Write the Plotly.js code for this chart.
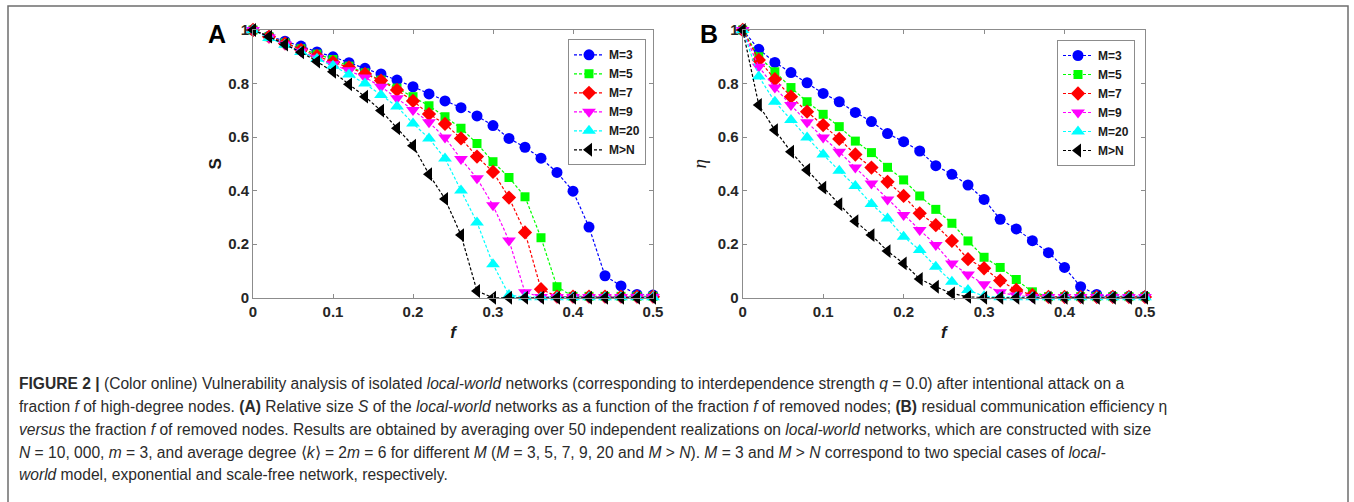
<!DOCTYPE html>
<html>
<head>
<meta charset="utf-8">
<script src="https://cdn.plot.ly/plotly-3.0.1.min.js"></script>
<style>
  html, body { margin: 0; padding: 0; background: #ffffff; }
  #chart { width: 1354px; height: 502px; }
</style>
</head>
<body>
<div id="chart"></div>
<script>
// ---------- data ----------
const fractionF = [0, 0.02, 0.04, 0.06, 0.08, 0.10, 0.12, 0.14, 0.16, 0.18, 0.20, 0.22, 0.24,
                   0.26, 0.28, 0.30, 0.32, 0.34, 0.36, 0.38, 0.40, 0.42, 0.44, 0.46, 0.48, 0.50];

const seriesNames = ["M=3", "M=5", "M=7", "M=9", "M=20", "M>N"];

// Panel A: relative size S
const sizeM3  = [1, 0.977, 0.958, 0.94, 0.918, 0.9, 0.878, 0.857, 0.836, 0.813, 0.788, 0.761, 0.735,
                 0.71, 0.679, 0.643, 0.595, 0.562, 0.521, 0.468, 0.398, 0.264, 0.082, 0.044, 0.012, 0.01];
const sizeM5  = [1, 0.975, 0.952, 0.93, 0.91, 0.89, 0.865, 0.84, 0.813, 0.783, 0.751, 0.717, 0.676,
                 0.633, 0.576, 0.508, 0.449, 0.377, 0.224, 0.041, 0.005, 0.005, 0.005, 0.005, 0.005, 0.005];
const sizeM7  = [1, 0.975, 0.95, 0.926, 0.903, 0.88, 0.86, 0.836, 0.811, 0.776, 0.735, 0.686, 0.649,
                 0.595, 0.527, 0.47, 0.374, 0.244, 0.032, 0.004, 0.004, 0.004, 0.004, 0.004, 0.004, 0.004];
const sizeM9  = [1, 0.972, 0.946, 0.92, 0.896, 0.872, 0.85, 0.823, 0.788, 0.745, 0.701, 0.655, 0.598,
                 0.518, 0.446, 0.345, 0.214, 0.02, 0.003, 0.003, 0.003, 0.003, 0.003, 0.003, 0.003, 0.003];
const sizeM20 = [1, 0.97, 0.945, 0.918, 0.893, 0.866, 0.834, 0.8, 0.757, 0.714, 0.651, 0.595, 0.52,
                 0.40, 0.281, 0.125, 0.01, 0.002, 0.002, 0.002, 0.002, 0.002, 0.002, 0.002, 0.002, 0.002];
const sizeMN  = [1, 0.975, 0.946, 0.917, 0.882, 0.844, 0.797, 0.751, 0.699, 0.633, 0.568, 0.461, 0.369,
                 0.234, 0.025, 0, 0, 0, 0, 0, 0, 0, 0, 0, 0, 0];

// Panel B: residual communication efficiency eta
const effM3  = [1, 0.928, 0.879, 0.841, 0.803, 0.763, 0.732, 0.692, 0.658, 0.613, 0.583, 0.548, 0.493,
                0.461, 0.421, 0.367, 0.293, 0.257, 0.213, 0.168, 0.113, 0.041, 0.012, 0.005, 0.005, 0.005];
const effM5  = [1, 0.90, 0.844, 0.785, 0.732, 0.685, 0.639, 0.585, 0.542, 0.487, 0.44, 0.38, 0.33,
                0.278, 0.212, 0.151, 0.113, 0.068, 0.022, 0.004, 0.004, 0.004, 0.004, 0.004, 0.004, 0.004];
const effM7  = [1, 0.888, 0.816, 0.751, 0.695, 0.645, 0.593, 0.535, 0.486, 0.433, 0.38, 0.315, 0.271,
                0.212, 0.144, 0.11, 0.064, 0.029, 0.01, 0.003, 0.003, 0.003, 0.003, 0.003, 0.003, 0.003];
const effM9  = [1, 0.863, 0.785, 0.72, 0.655, 0.598, 0.545, 0.486, 0.427, 0.367, 0.309, 0.253, 0.197,
                0.128, 0.087, 0.05, 0.02, 0.008, 0.003, 0.003, 0.003, 0.003, 0.003, 0.003, 0.003, 0.003];
const effM20 = [1, 0.826, 0.732, 0.664, 0.598, 0.535, 0.474, 0.417, 0.35, 0.296, 0.228, 0.178, 0.116,
                0.06, 0.029, 0.005, 0.002, 0.002, 0.002, 0.002, 0.002, 0.002, 0.002, 0.002, 0.002, 0.002];
const effMN  = [1, 0.72, 0.626, 0.545, 0.477, 0.411, 0.349, 0.286, 0.234, 0.174, 0.128, 0.07, 0.041,
                0.016, 0.003, 0, 0, 0, 0, 0, 0, 0, 0, 0, 0, 0];

const xTickVals = [0, 0.1, 0.2, 0.3, 0.4, 0.5];
const xTickText = ["0", "0.1", "0.2", "0.3", "0.4", "0.5"];
const yTickVals = [0, 0.2, 0.4, 0.6, 0.8, 1];
const yTickText = ["0", "0.2", "0.4", "0.6", "0.8", "1"];

// ---------- styles ----------
const colors  = ["#0000ff", "#00ff00", "#ff0000", "#ff00ff", "#00ffff", "#000000"];
const symbols = ["circle", "square", "diamond", "triangle-down", "triangle-up", "triangle-left"];
const sizes   = [11, 9, 11, 12, 12, 12];

const panelA = [sizeM3, sizeM5, sizeM7, sizeM9, sizeM20, sizeMN];
const panelB = [effM3, effM5, effM7, effM9, effM20, effMN];

const traces = [];
function addPanel(data, xa, ya, legendId) {
  data.forEach((ys, i) => {
    traces.push({
      type: "scatter", mode: "lines+markers",
      x: fractionF, y: ys, xaxis: xa, yaxis: ya,
      name: "<b>" + seriesNames[i].replace(">", "&gt;") + "</b>", legend: legendId,
      cliponaxis: false,
      line: { color: colors[i], width: 1.2, dash: "3px,2px" },
      marker: { color: colors[i], symbol: symbols[i], size: sizes[i], line: { width: 0 } }
    });
  });
}
addPanel(panelA, "x", "y", "legend");
addPanel(panelB, "x2", "y2", "legend2");

const W = 1354, H = 502;
const px = v => v / W, py = v => 1 - v / H;
const bold = arr => arr.map(s => "<b>" + s + "</b>");

const tickFont = { family: "Liberation Sans, Arial, sans-serif", size: 15, color: "#262626" };
function xAxis(d0, d1, anchor) {
  return {
    domain: [px(d0), px(d1)], anchor: anchor, range: [0, 0.5],
    tickvals: xTickVals, ticktext: bold(xTickText), ticks: "inside", ticklen: 4, tickcolor: "#8c8c8c",
    showline: true, linecolor: "#8c8c8c", linewidth: 1, mirror: "ticks", showgrid: false, zeroline: false,
    tickfont: tickFont, automargin: false,
    title: { text: "<b><i>f</i></b>", standoff: 7,
             font: { family: "Liberation Sans, Arial, sans-serif", size: 17, color: "#1a1a1a" } }
  };
}
function yAxis(anchor, titleText, titleFont, standoff) {
  return {
    domain: [1 - 297.7 / H, 1 - 30 / H], anchor: anchor, range: [0, 1],
    tickvals: yTickVals, ticktext: bold(yTickText), ticks: "inside", ticklen: 4, tickcolor: "#8c8c8c",
    showline: true, linecolor: "#8c8c8c", linewidth: 1, mirror: "ticks", showgrid: false, zeroline: false,
    tickfont: tickFont, automargin: false,
    title: { text: titleText, standoff: standoff, font: titleFont }
  };
}

const legendCommon = {
  bgcolor: "#ffffff", bordercolor: "#8c8c8c", borderwidth: 1,
  font: { family: "Liberation Sans, Arial, sans-serif", size: 12, color: "#1a1a1a" },
  xref: "paper", yref: "paper", xanchor: "right", yanchor: "top",
  itemwidth: 30, tracegroupgap: 0
};

const capFont = { family: "Liberation Sans, Arial, sans-serif", size: 15.6, color: "#2b2b2b" };
const captionLines = [
  "<b>FIGURE 2 |</b> (Color online) Vulnerability analysis of isolated <i>local-world</i> networks (corresponding to interdependence strength <i>q</i> = 0.0) after intentional attack on a",
  "fraction <i>f</i> of high-degree nodes. <b>(A)</b> Relative size <i>S</i> of the <i>local-world</i> networks as a function of the fraction <i>f</i> of removed nodes; <b>(B)</b> residual communication efficiency η",
  "<i>versus</i> the fraction <i>f</i> of removed nodes. Results are obtained by averaging over 50 independent realizations on <i>local-world</i> networks, which are constructed with size",
  "<i>N</i> = 10, 000, <i>m</i> = 3, and average degree ⟨<i>k</i>⟩ = 2<i>m</i> = 6 for different <i>M</i> (<i>M</i> = 3, 5, 7, 9, 20 and <i>M</i> &gt; <i>N</i>). <i>M</i> = 3 and <i>M</i> &gt; <i>N</i> correspond to two special cases of <i>local-</i>",
  "<i>world</i> model, exponential and scale-free network, respectively."
];
const captionY = [383, 406, 429, 452, 474];

const annotations = [
  { text: "<b>A</b>", x: px(217), y: py(34), xref: "paper", yref: "paper", showarrow: false,
    xanchor: "center", yanchor: "middle", font: { family: "Liberation Sans, Arial, sans-serif", size: 25, color: "#000" } },
  { text: "<b>B</b>", x: px(709), y: py(34), xref: "paper", yref: "paper", showarrow: false,
    xanchor: "center", yanchor: "middle", font: { family: "Liberation Sans, Arial, sans-serif", size: 25, color: "#000" } }
];
captionLines.forEach((t, i) => {
  annotations.push({ text: t, x: px(17), y: py(captionY[i]), xref: "paper", yref: "paper", showarrow: false,
    xanchor: "left", yanchor: "middle", align: "left", font: capFont });
});

const layout = {
  width: W, height: H, margin: { l: 0, r: 0, t: 0, b: 0 },
  paper_bgcolor: "#ffffff", plot_bgcolor: "#ffffff",
  showlegend: true,
  xaxis: xAxis(253, 653, "y"),
  yaxis: yAxis("x", "<b>S</b>", { family: "Liberation Sans, Arial, sans-serif", size: 17, color: "#1a1a1a" }, 2),
  xaxis2: xAxis(742.7, 1145, "y2"),
  yaxis2: yAxis("x2", "<i>η</i>", { family: "Liberation Serif, Times New Roman, serif", size: 19, color: "#1a1a1a" }, 6),
  legend: Object.assign({}, legendCommon, { x: px(646), y: py(39.3) }),
  legend2: Object.assign({}, legendCommon, { x: px(1135), y: py(40) }),
  annotations: annotations,
  shapes: [
    { type: "rect", xref: "paper", yref: "paper", x0: px(8), x1: px(1348), y0: -0.05, y1: py(6),
      line: { color: "#6e6e6e", width: 1.5 }, fillcolor: "rgba(0,0,0,0)", layer: "below" }
  ]
};

Plotly.newPlot("chart", traces, layout, { staticPlot: true, displayModeBar: false });
</script>
</body>
</html>
